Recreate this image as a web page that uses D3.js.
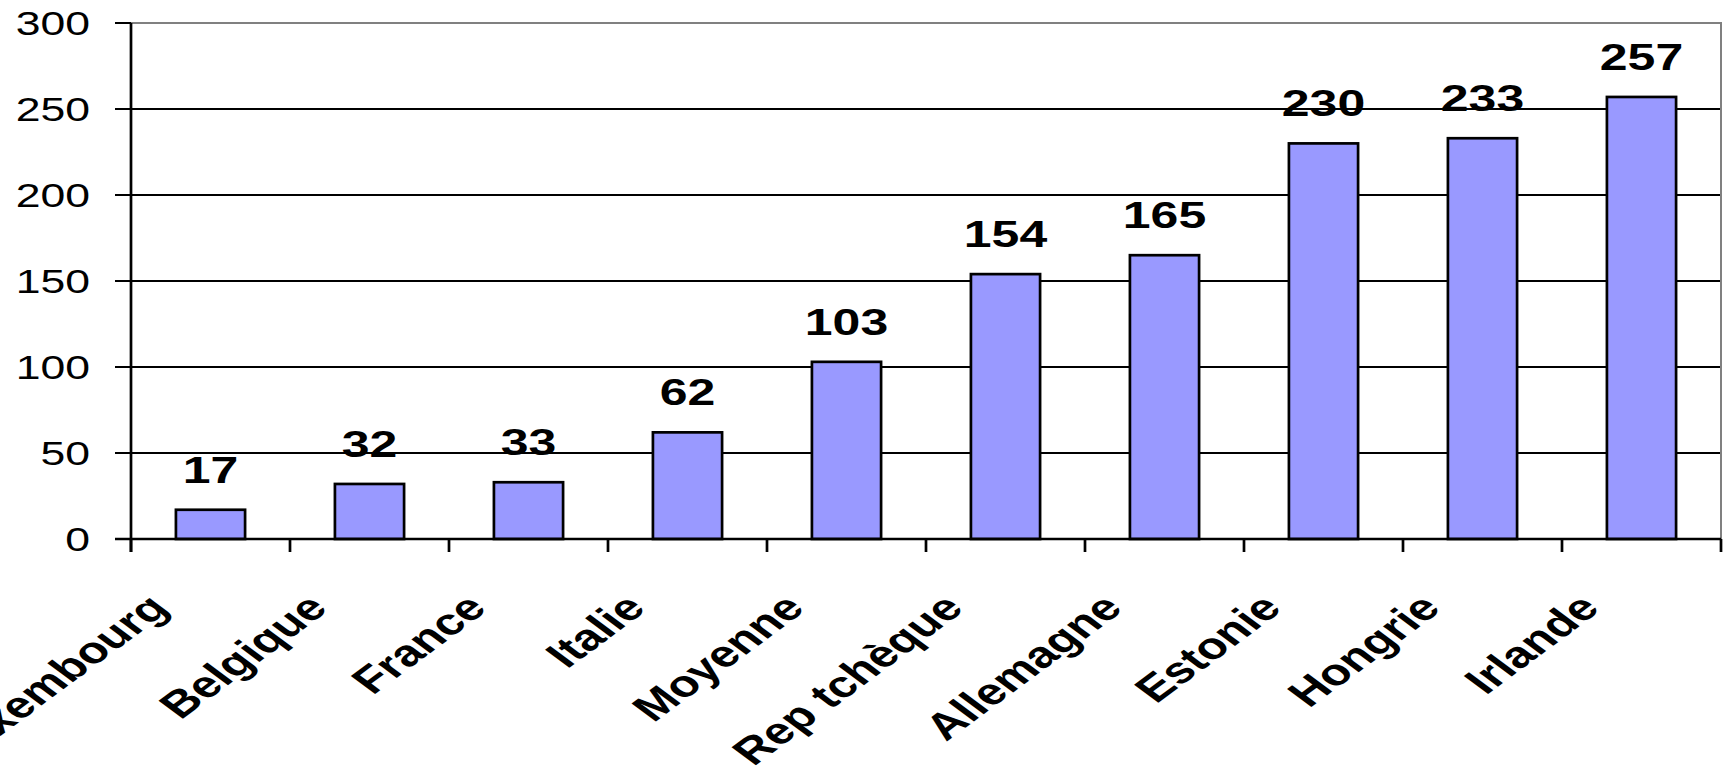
<!DOCTYPE html>
<html>
<head>
<meta charset="utf-8">
<script src="https://cdn.jsdelivr.net/npm/d3@7"></script>
<style>
    body { margin: 0; background: #fff; }
    text { font-family: "Liberation Sans", Arial, sans-serif; fill: #000; }
</style>
</head>
<body>
<svg id="chart" width="1729" height="771"></svg>
<script>
const countries = ["Luxembourg", "Belgique", "France", "Italie", "Moyenne",
    "Rep tchèque", "Allemagne", "Estonie", "Hongrie", "Irlande"];
const values = [17, 32, 33, 62, 103, 154, 165, 230, 233, 257];
const yTicks = [0, 50, 100, 150, 200, 250, 300];

const width = 1729;
const height = 771;
const margin = {top: 23, right: 8, bottom: 232, left: 131};
const stretch = 1.35; // text in the picture is stretched sideways

const svg = d3.select("#chart");

const x = d3.scaleBand()
    .domain(countries)
    .range([margin.left, width - margin.right])
    .paddingInner(0.565)
    .paddingOuter(0.2825);

const y = d3.scaleLinear()
    .domain([0, 300])
    .range([height - margin.bottom, margin.top]);

const x0 = margin.left, x1 = width - margin.right;
const step = (x1 - x0) / countries.length;

// gridlines
svg.append("g")
    .selectAll("line")
    .data(yTicks.filter(d => d > 0 && d < 300))
    .join("line")
    .attr("x1", x0).attr("x2", x1)
    .attr("y1", d => y(d)).attr("y2", d => y(d))
    .attr("stroke", "#000")
    .attr("stroke-width", 1.8);

// plot frame (top and right in grey)
svg.append("path")
    .attr("d", `M${x0},${y(300)}H${x1}V${y(0)}`)
    .attr("fill", "none")
    .attr("stroke", "#808080")
    .attr("stroke-width", 2);

// bars
svg.append("g")
    .selectAll("rect")
    .data(values)
    .join("rect")
    .attr("x", (d, i) => x(countries[i]))
    .attr("y", d => y(d))
    .attr("width", x.bandwidth())
    .attr("height", d => y(0) - y(d))
    .attr("fill", "#9999ff")
    .attr("stroke", "#000")
    .attr("stroke-width", 2.7);

// y axis
svg.append("line")
    .attr("x1", x0).attr("x2", x0)
    .attr("y1", y(300)).attr("y2", y(0) + 13)
    .attr("stroke", "#000").attr("stroke-width", 2.7);

svg.append("g")
    .selectAll("line")
    .data(yTicks)
    .join("line")
    .attr("x1", x0 - 16).attr("x2", x0)
    .attr("y1", d => y(d)).attr("y2", d => y(d))
    .attr("stroke", "#000").attr("stroke-width", 2);

svg.append("g")
    .selectAll("text")
    .data(yTicks)
    .join("text")
    .attr("transform", d => `translate(90,${y(d)}) scale(${stretch},1)`)
    .attr("dy", "0.36em")
    .attr("text-anchor", "end")
    .attr("font-size", 33)
    .text(d => d);

// x axis
svg.append("line")
    .attr("x1", x0 - 16).attr("x2", x1)
    .attr("y1", y(0)).attr("y2", y(0))
    .attr("stroke", "#000").attr("stroke-width", 2.7);

svg.append("g")
    .selectAll("line")
    .data(d3.range(countries.length + 1))
    .join("line")
    .attr("x1", i => x0 + i * step).attr("x2", i => x0 + i * step)
    .attr("y1", y(0)).attr("y2", y(0) + 13)
    .attr("stroke", "#000").attr("stroke-width", 2.7);

svg.append("g")
    .selectAll("text")
    .data(countries)
    .join("text")
    .attr("transform", d => `translate(${x(d) + x.bandwidth() / 2 - 40},610) scale(${stretch},1) rotate(-45)`)
    .attr("text-anchor", "end")
    .attr("font-size", 37)
    .attr("font-weight", "bold")
    .text(d => d);

// value labels
svg.append("g")
    .selectAll("text")
    .data(values)
    .join("text")
    .attr("transform", (d, i) => `translate(${x(countries[i]) + x.bandwidth() / 2},${y(d) - 27}) scale(${stretch},1)`)
    .attr("text-anchor", "middle")
    .attr("font-size", 37)
    .attr("font-weight", "bold")
    .text(d => d);
</script>
</body>
</html>
